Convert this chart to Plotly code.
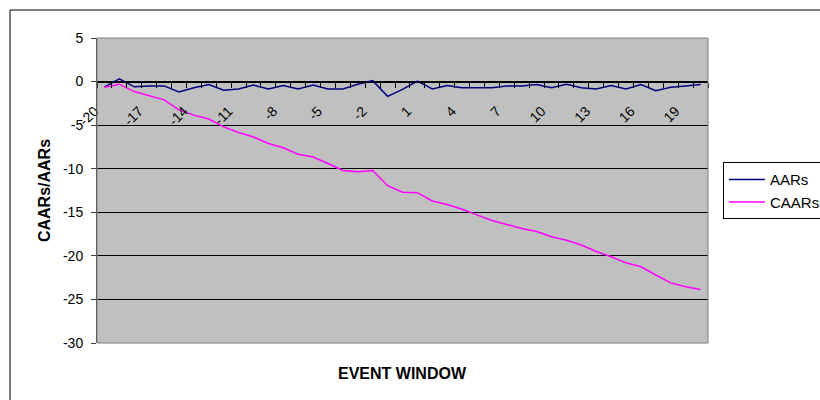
import plotly.graph_objects as go

# Event window days and abnormal return series
event_window = list(range(-20, 21))
aars = [-0.6, 0.3, -0.6, -0.5, -0.5, -1.2, -0.7, -0.35, -1.0, -0.85, -0.4,
        -0.85, -0.45, -0.85, -0.4, -0.85, -0.85, -0.3, 0.1, -1.7, -0.9,
        0.05, -0.85, -0.45, -0.7, -0.7, -0.7, -0.5, -0.5, -0.35, -0.7,
        -0.3, -0.7, -0.85, -0.45, -0.85, -0.35, -1.05, -0.65, -0.5, -0.35]
caars = [-0.65, -0.3, -1.15, -1.65, -2.1, -3.25, -3.85, -4.3, -5.2, -5.85, -6.35,
         -7.1, -7.6, -8.35, -8.65, -9.4, -10.2, -10.35, -10.2, -11.95, -12.7,
         -12.75, -13.7, -14.1, -14.65, -15.3, -15.95, -16.4, -16.85, -17.2, -17.8,
         -18.2, -18.75, -19.5, -20.1, -20.8, -21.25, -22.2, -23.1, -23.55, -23.85]

x_tick_values = list(range(-20, 21, 3))
x_tick_labels = [str(v) for v in x_tick_values]
y_tick_values = list(range(-30, 6, 5))
y_tick_labels = [str(v) for v in y_tick_values]
y_min, y_max = -30, 5
x_range = [-20.5, 20.5]

FONT = "Arial, 'Liberation Sans', sans-serif"

fig = go.Figure()
fig.add_trace(go.Scatter(x=event_window, y=aars, name="AARs", mode="lines",
                         line=dict(color="#000080", width=1.5)))
fig.add_trace(go.Scatter(x=event_window, y=caars, name="CAARs", mode="lines",
                         line=dict(color="#FF00FF", width=1.5)))

# category boundaries for the small tick marks on the zero line
boundaries = [v + 0.5 for v in range(-21, 21)]
zero_pos = (0 - y_min) / (y_max - y_min)

fig.update_layout(
    width=820, height=400,
    margin=dict(l=97, r=112, t=38, b=57, autoexpand=False),
    paper_bgcolor="white", plot_bgcolor="#C0C0C0",
    font=dict(family=FONT, size=14, color="black"),
    showlegend=True,
    legend=dict(x=1.0245, y=0.593, xanchor="left", yanchor="top",
                bgcolor="white", bordercolor="black", borderwidth=1,
                itemwidth=36, font=dict(size=15)),
    xaxis=dict(
        range=x_range, anchor="free", position=zero_pos,
        tickmode="array", tickvals=x_tick_values, ticktext=x_tick_labels,
        tickangle=-45, ticks="outside", ticklen=5, tickcolor="rgba(0,0,0,0)",
        ticklabelstandoff=10, ticklabelshift=-10,
        showgrid=False, zeroline=False,
        showline=True, linecolor="black", linewidth=1,
    ),
    # companion axis carrying the tick marks between categories
    xaxis2=dict(
        range=x_range, overlaying="x", anchor="free", position=zero_pos,
        side="bottom", tickmode="array", tickvals=boundaries,
        ticks="outside", ticklen=5, tickcolor="black", tickwidth=1,
        showticklabels=False, showgrid=False, zeroline=False, showline=False,
    ),
    yaxis=dict(
        range=[y_min, y_max], tickmode="array", tickvals=y_tick_values,
        ticktext=y_tick_labels,
        ticks="outside", ticklen=5, tickcolor="#404040",
        showline=True, linecolor="#404040", linewidth=1,
        showgrid=True, gridcolor="black", gridwidth=1, zeroline=False,
        ticklabelstandoff=5,
        title=dict(text="<b>CAARs/AARs</b>", font=dict(size=16), standoff=8),
    ),
    shapes=[
        # plot area frame
        dict(type="rect", xref="paper", yref="paper", x0=0, y0=0, x1=1, y1=1,
             line=dict(color="#808080", width=1), fillcolor="rgba(0,0,0,0)"),
        # chart area frame
        dict(type="rect", xref="paper", yref="paper",
             x0=-87 / 611, y0=-62 / 305, x1=1.2, y1=333 / 305,
             line=dict(color="black", width=1), fillcolor="rgba(0,0,0,0)"),
    ],
    annotations=[
        dict(text="<b>EVENT WINDOW</b>", xref="paper", yref="paper",
             x=0.5, y=-30 / 305, xanchor="center", yanchor="middle",
             showarrow=False, font=dict(size=16)),
    ],
)

# an invisible trace keeps the companion axis active
fig.add_trace(go.Scatter(x=[x_range[0]], y=[0], xaxis="x2", mode="markers",
                         marker=dict(opacity=0), showlegend=False,
                         hoverinfo="skip"))

fig.write_html("out.html")
